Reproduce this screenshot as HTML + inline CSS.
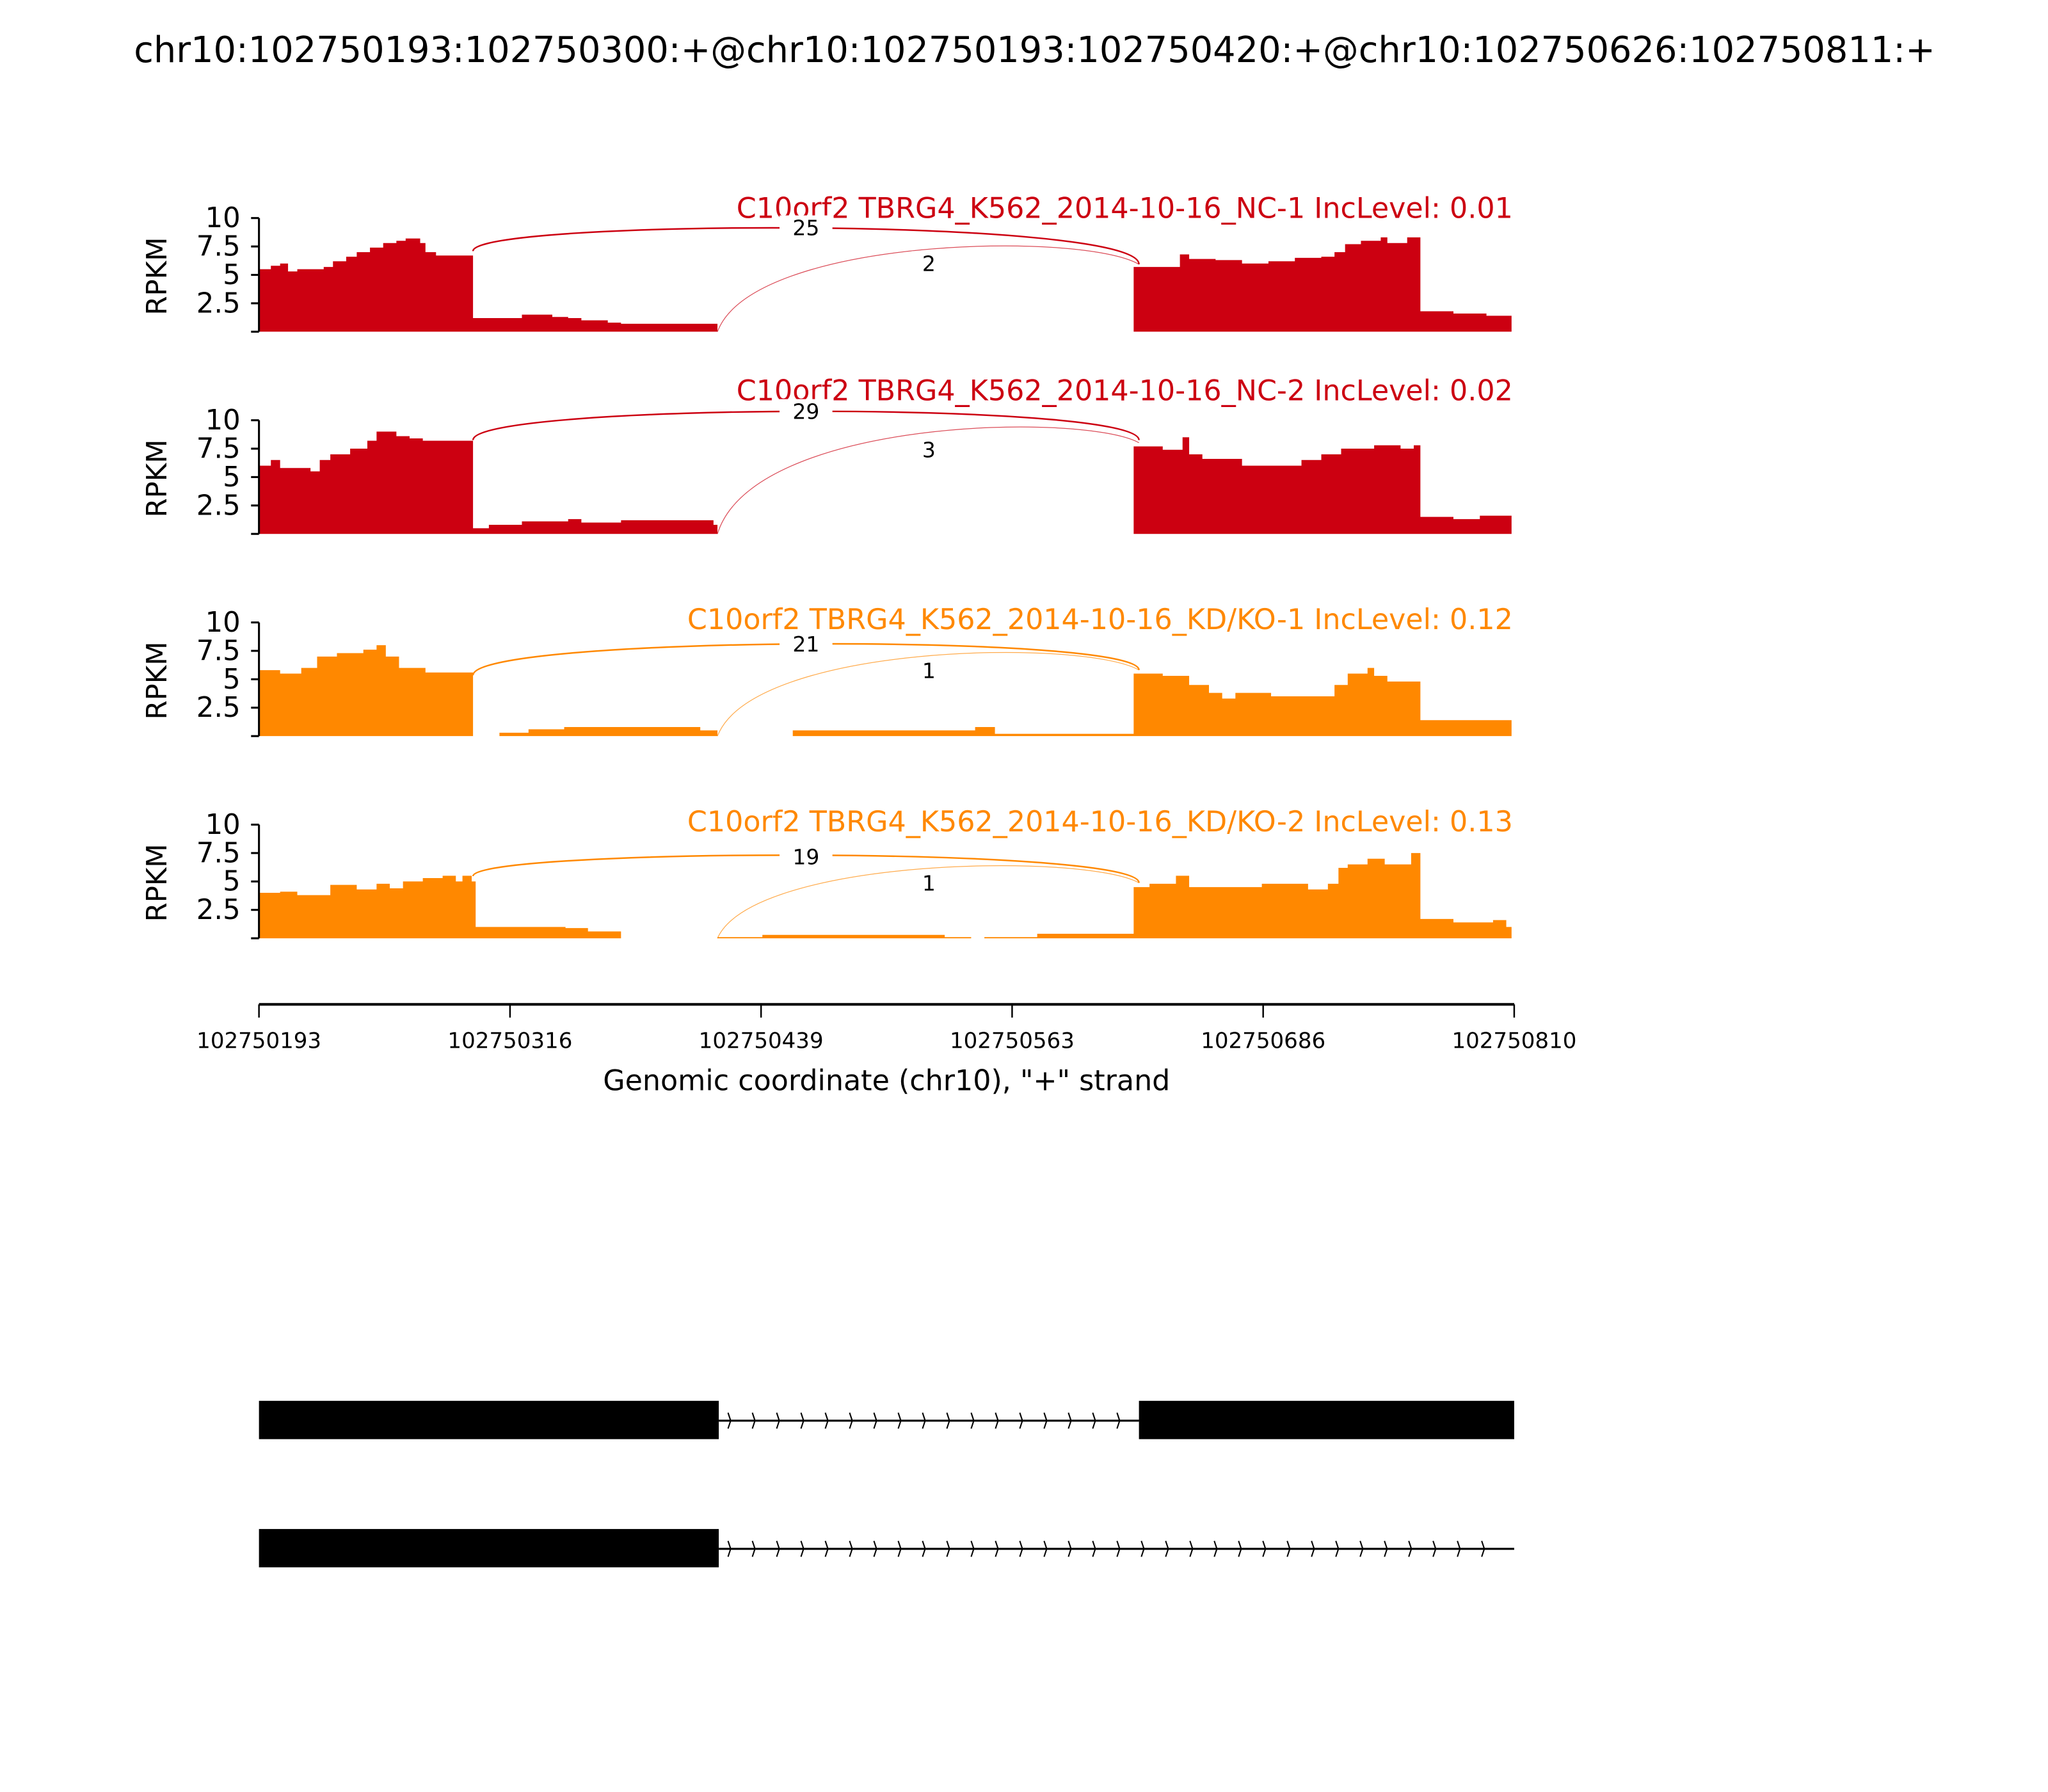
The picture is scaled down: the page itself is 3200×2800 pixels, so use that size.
<!DOCTYPE html>
<html><head><meta charset="utf-8"><style>
html,body{margin:0;padding:0;background:#fff}
svg{display:block}
text{font-family:"DejaVu Sans","Liberation Sans",sans-serif}
</style></head><body>
<svg id="s" width="3200" height="2800" viewBox="0 0 1550 1356" preserveAspectRatio="none" xmlns="http://www.w3.org/2000/svg">
<text x="783" y="47" font-size="27" text-anchor="middle">chr10:102750193:102750300:+@chr10:102750193:102750420:+@chr10:102750626:102750811:+</text>
<g id="panels"></g>
<line x1="196" y1="760" x2="1146" y2="760" stroke="#000" stroke-width="2"/>
<g stroke="#000" stroke-width="1.2">
<line x1="196" y1="760" x2="196" y2="770"/><line x1="386" y1="760" x2="386" y2="770"/><line x1="576" y1="760" x2="576" y2="770"/>
<line x1="766" y1="760" x2="766" y2="770"/><line x1="956" y1="760" x2="956" y2="770"/><line x1="1146" y1="760" x2="1146" y2="770"/>
</g>
<g font-size="16.5" text-anchor="middle">
<text x="196" y="793">102750193</text><text x="386" y="793">102750316</text><text x="576" y="793">102750439</text>
<text x="766" y="793">102750563</text><text x="956" y="793">102750686</text><text x="1146" y="793">102750810</text>
</g>
<text x="671" y="825" font-size="21.5" text-anchor="middle">Genomic coordinate (chr10), "+" strand</text>
<rect x="196" y="1060" width="348" height="29" fill="#000"/>
<rect x="862" y="1060" width="284" height="29" fill="#000"/>
<line x1="544" y1="1075" x2="862" y2="1075" stroke="#000" stroke-width="1.5"/>
<rect x="196" y="1157" width="348" height="29" fill="#000"/>
<line x1="544" y1="1172" x2="1146" y2="1172" stroke="#000" stroke-width="1.5"/>
<g id="chev" fill="none" stroke="#000" stroke-width="1"></g>
</svg>
<script>
var NS="http://www.w3.org/2000/svg";
function el(t,a,p,txt){var e=document.createElementNS(NS,t);for(var k in a)e.setAttribute(k,a[k]);if(txt!==undefined)e.textContent=txt;p.appendChild(e);return e;}
var P=document.getElementById('panels');
var panels=[
{top:165,ty:165,col:"#cc0011",title:"C10orf2 TBRG4_K562_2014-10-16_NC-1 IncLevel: 0.01",big:"25",small:"2",bigY:[190,172,200],smallEnd:200,smallPeak:189,ly:199,
d:[[196,5.5],[205,5.8],[212,6],[218,5.3],[225,5.5],[245,5.7],[252,6.2],[262,6.6],[270,7],[280,7.4],[290,7.8],[300,8],[307,8.2],[318,7.8],[322,7],[330,6.7],[358,1.2],[395,1.5],[418,1.3],[430,1.2],[440,1],[460,0.8],[470,0.7],[543,0],[857,0],[858,5.7],[880,5.7],[893,6.8],[900,6.4],[920,6.3],[940,6],[960,6.2],[980,6.5],[1000,6.6],[1010,7],[1018,7.7],[1030,8],[1045,8.3],[1050,7.8],[1065,8.3],[1075,1.8],[1100,1.6],[1125,1.4],[1143,1.4],[1144,0]]},
{top:318,ty:303,col:"#cc0011",title:"C10orf2 TBRG4_K562_2014-10-16_NC-2 IncLevel: 0.02",big:"29",small:"3",bigY:[333,311,333],smallEnd:335,smallPeak:326,ly:340,
d:[[196,6],[205,6.5],[212,5.8],[235,5.5],[242,6.5],[250,7],[265,7.5],[278,8.2],[285,9],[300,8.6],[310,8.4],[320,8.2],[358,0.5],[370,0.8],[395,1.1],[430,1.3],[440,1],[470,1.2],[540,0.8],[543,0],[857,0],[858,7.7],[880,7.4],[895,8.5],[900,7],[910,6.6],[940,6],[985,6.5],[1000,7],[1015,7.5],[1040,7.8],[1060,7.5],[1070,7.8],[1075,1.5],[1100,1.3],[1120,1.6],[1144,0]]},
{top:471,ty:476,col:"#ff8800",title:"C10orf2 TBRG4_K562_2014-10-16_KD/KO-1 IncLevel: 0.12",big:"21",small:"1",bigY:[511,487,507],smallEnd:507,smallPeak:497,ly:507,
d:[[196,5.8],[212,5.5],[228,6],[240,7],[255,7.3],[275,7.6],[285,8],[292,7],[302,6],[322,5.6],[358,0],[378,0.3],[400,0.6],[427,0.8],[530,0.5],[543,0],[600,0.5],[738,0.8],[753,0.2],[857,0.2],[858,5.5],[880,5.3],[900,4.5],[915,3.8],[925,3.3],[935,3.8],[962,3.5],[1010,4.5],[1020,5.5],[1035,6],[1040,5.3],[1050,4.8],[1075,1.4],[1143,1.4],[1144,0]]},
{top:624,ty:629,col:"#ff8800",title:"C10orf2 TBRG4_K562_2014-10-16_KD/KO-2 IncLevel: 0.13",big:"19",small:"1",bigY:[663,648,668],smallEnd:668,smallPeak:659,ly:668,
d:[[196,4],[212,4.1],[225,3.8],[250,4.7],[270,4.3],[285,4.8],[295,4.4],[305,5],[320,5.3],[335,5.5],[345,5],[350,5.5],[357,5],[360,1],[428,0.9],[445,0.6],[470,0],[543,0.1],[577,0.3],[715,0.1],[735,0],[745,0.1],[785,0.4],[858,4.5],[870,4.8],[890,5.5],[900,4.5],[955,4.8],[990,4.3],[1005,4.8],[1013,6.2],[1020,6.5],[1035,7],[1048,6.5],[1068,7.5],[1075,1.7],[1100,1.4],[1130,1.6],[1140,1],[1144,0]]}
];
panels.forEach(function(p){
 var base=p.top+86, s=8.6, g=el('g',{},P);
 var d="M196,"+base;
 for(var i=0;i<p.d.length;i++){var x=p.d[i][0],y=base-p.d[i][1]*s;d+=" L"+x+","+y;if(i<p.d.length-1){d+=" L"+p.d[i+1][0]+","+y;}}
 d+=" L1144,"+base+" Z";
 el('path',{d:d,fill:p.col},g);
 el('line',{x1:196,y1:p.top,x2:196,y2:base,stroke:"#000","stroke-width":1.5},g);
 [0,2.5,5,7.5,10].forEach(function(v){var y=base-v*s;el('line',{x1:190,y1:y,x2:196,y2:y,stroke:"#000","stroke-width":1.5},g);
  if(v>0)el('text',{x:182,y:y+7,"font-size":21,"text-anchor":"end"},g,String(v));});
 el('text',{x:0,y:0,"font-size":21,"text-anchor":"middle",transform:"translate(126,"+(p.top+44)+") rotate(-90)"},g,"RPKM");
 el('text',{x:1145,y:p.ty,"font-size":21.5,"text-anchor":"end",fill:p.col},g,p.title);
 var b=p.bigY;
 el('path',{d:"M358,"+b[0]+" C358,"+(b[1]-6)+" 862,"+(b[1]-8)+" 862,"+b[2],fill:"none",stroke:p.col,"stroke-width":1.2},g);
 el('path',{d:"M543,"+base+" C570,"+(p.smallPeak-10)+" 820,"+(p.smallPeak-14)+" 862,"+p.smallEnd,fill:"none",stroke:p.col,"stroke-width":0.6,opacity:0.7},g);
 el('rect',{x:590,y:b[1]-9,width:40,height:18,fill:"#fff"},g);
 el('text',{x:610,y:b[1]+6,"font-size":16,"text-anchor":"middle"},g,p.big);
 el('rect',{x:690,y:p.ly-9,width:26,height:18,fill:"#fff"},g);
 el('text',{x:703,y:p.ly+6,"font-size":16,"text-anchor":"middle"},g,p.small);
});
var C=document.getElementById('chev');
function chev(x0,x1,y){for(var x=x0;x<=x1;x+=18.4){el('path',{d:"M"+(x-2)+","+(y-6)+" L"+x+","+y+" L"+(x-2)+","+(y+6)},C);}}
chev(553,862,1075);chev(553,1132,1172);
</script>
</body></html>
